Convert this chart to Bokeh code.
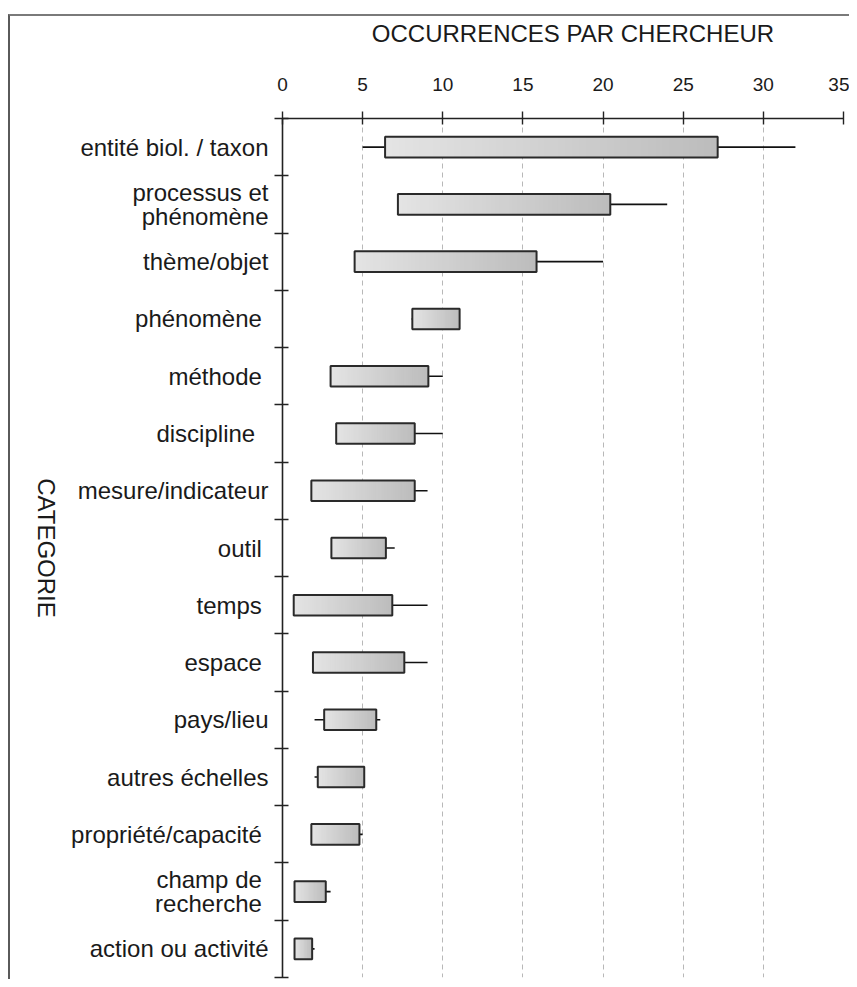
import math
from bokeh.plotting import figure
from bokeh.layouts import row
from bokeh.models import Range1d, FixedTicker, CustomJSTickFormatter
from bokeh.core.properties import value
from bokeh.embed import file_html
from bokeh.resources import INLINE

# ---- data ----
categories = [
    "entité biol. / taxon",
    "processus et\nphénomène",
    "thème/objet",
    "phénomène ",
    "méthode ",
    "discipline  ",
    "mesure/indicateur",
    "outil ",
    "temps ",
    "espace ",
    "pays/lieu",
    "autres échelles",
    "propriété/capacité ",
    "champ de \nrecherche ",
    "action ou activité",
]
box_low = [6.4, 7.2, 4.5, 8.1, 3.0, 3.35, 1.8, 3.05, 0.7, 1.9, 2.6, 2.2, 1.8, 0.75, 0.75]
box_high = [27.15, 20.45, 15.85, 11.05, 9.1, 8.25, 8.25, 6.45, 6.85, 7.6, 5.85, 5.1, 4.8, 2.7, 1.85]
whisker_low = [5.0, 7.2, 4.5, 8.05, 3.0, 3.35, 1.8, 3.05, 0.7, 1.9, 2.0, 2.0, 1.8, 0.75, 0.75]
whisker_high = [32.0, 24.0, 20.0, 11.05, 10.0, 10.0, 9.05, 7.0, 9.05, 9.05, 6.1, 5.1, 5.0, 3.0, 2.0]
x_ticks = [0, 5, 10, 15, 20, 25, 30, 35]
x_title = "OCCURRENCES PAR CHERCHEUR"
y_title = "CATEGORIE"

n = len(categories)
centers = [i + 0.5 for i in range(n)]
bounds = list(range(n + 1))
BAR_H = 0.36
FONT = "Liberation Sans"
H = 963
TOP = 101
BOTTOM = 2
LAB_W = 58

# ---- narrow panel holding the vertical axis title ----
pl = figure(width=LAB_W, height=H, x_range=Range1d(0, 1), y_range=Range1d(n, 0),
            x_axis_type=None, y_axis_type=None, output_backend="svg", title=None,
            toolbar_location=None, min_border_left=0, min_border_right=0,
            min_border_top=TOP, min_border_bottom=BOTTOM)
pl.outline_line_color = None
pl.grid.visible = False
pl.background_fill_color = "white"
pl.border_fill_color = "white"
pl.text(x=[0.62], y=[n / 2], text=[y_title], angle=-math.pi / 2,
        text_align="center", text_baseline="middle",
        text_font=value(FONT), text_font_size=value("24px"), text_color="#1a1a1a")

# ---- main chart ----
p = figure(
    width=839 - LAB_W, height=H,
    x_range=Range1d(x_ticks[0], x_ticks[-1]),
    y_range=Range1d(n, 0),
    output_backend="svg", toolbar_location=None, title=None,
    x_axis_location="above",
    min_border_left=272 - LAB_W, min_border_right=6,
    min_border_top=TOP, min_border_bottom=BOTTOM,
)
p.outline_line_color = None
p.background_fill_color = "white"
p.border_fill_color = "white"

# x axis (top)
xa = p.xaxis[0]
xa.ticker = FixedTicker(ticks=x_ticks)
xa.major_tick_out = 7
xa.major_tick_in = 6
xa.minor_tick_out = 0
xa.minor_tick_in = 0
xa.axis_line_width = 1.6
xa.axis_line_color = "#222222"
xa.major_tick_line_color = "#222222"
xa.major_tick_line_width = 1.4
xa.major_label_text_font = FONT
xa.major_label_text_font_size = "19px"
xa.major_label_text_color = "#1a1a1a"
xa.major_label_standoff = 21
xa.axis_label = "\u00a0\u00a0\u00a0" + x_title
xa.axis_label_text_font = FONT
xa.axis_label_text_font_size = "24px"
xa.axis_label_text_font_style = "normal"
xa.axis_label_text_color = "#1a1a1a"
xa.axis_label_standoff = 28

# y axis (left) - labels at centers, ticks at boundaries
ya = p.yaxis[0]
ya.ticker = FixedTicker(ticks=centers, minor_ticks=bounds)
ya.formatter = CustomJSTickFormatter(args=dict(labels=categories),
                                     code="return labels[Math.floor(tick)]")
ya.major_tick_out = 0
ya.major_tick_in = 0
ya.minor_tick_out = 8
ya.minor_tick_in = 6
ya.minor_tick_line_color = "#222222"
ya.minor_tick_line_width = 1.4
ya.axis_line_width = 1.6
ya.axis_line_color = "#222222"
ya.major_label_text_font = FONT
ya.major_label_text_font_size = "24px"
ya.major_label_text_color = "#1a1a1a"
ya.major_label_text_line_height = 0.9
ya.major_label_standoff = 6
ya.axis_label_standoff = 0

# grid
p.ygrid.visible = False
p.xgrid.ticker = FixedTicker(ticks=x_ticks[1:])
p.xgrid.grid_line_color = "#b8b8b8"
p.xgrid.grid_line_dash = "5 4"
p.xgrid.grid_line_width = 1

# whiskers
p.segment(x0=whisker_low, x1=box_low, y0=centers, y1=centers, line_color="#111111", line_width=1.6)
p.segment(x0=box_high, x1=whisker_high, y0=centers, y1=centers, line_color="#111111", line_width=1.6)

# gradient fill of boxes (light -> dark, left -> right)
N = 48
c0, c1 = 228, 188
gl, gr, gy, gc = [], [], [], []
for lo, hi, yc in zip(box_low, box_high, centers):
    for k in range(N):
        t = k / N
        gl.append(lo + (hi - lo) * t)
        gr.append(hi)
        gy.append(yc)
        v = int(round(c0 + (c1 - c0) * (k + 0.5) / N))
        gc.append("#%02x%02x%02x" % (v, v, v))
p.hbar(y=gy, left=gl, right=gr, height=BAR_H, fill_color=gc, line_color=None)

# box outlines
p.hbar(y=centers, left=box_low, right=box_high, height=BAR_H,
       fill_color=None, line_color="#2a2a2a", line_width=2)

layout = row(pl, p, spacing=0)
layout.styles = {"border-top": "2px solid #7a7a7a", "border-left": "2px solid #5a5a5a"}
layout.margin = (14, 0, 0, 8)

open("out.html", "w").write(file_html(layout, INLINE))
